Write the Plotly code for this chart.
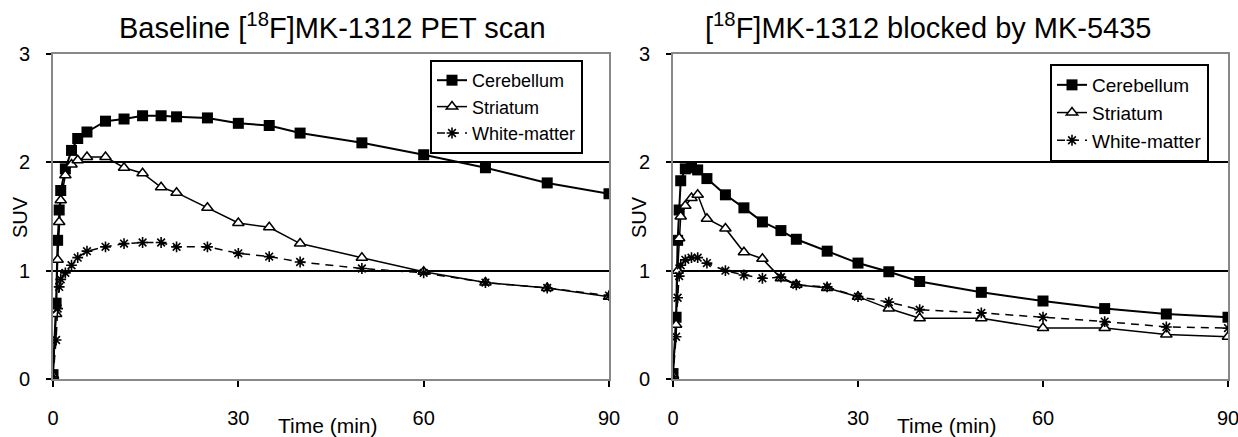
import plotly.graph_objects as go

time_min = [0, 0.5, 0.75, 1, 1.25, 2, 3, 4, 5.5, 8.5, 11.5, 14.5, 17.5, 20, 25, 30, 35, 40, 50, 60, 70, 80, 90]

base_cerebellum = [0.04, 0.70, 1.28, 1.56, 1.74, 1.94, 2.11, 2.22, 2.28, 2.38, 2.40, 2.43, 2.43, 2.42,
                   2.41, 2.36, 2.34, 2.27, 2.18, 2.07, 1.95, 1.81, 1.71]
base_striatum = [0.03, 0.60, 1.10, 1.45, 1.65, 1.88, 1.98, 2.02, 2.05, 2.05, 1.95, 1.90, 1.77, 1.72,
                 1.58, 1.44, 1.40, 1.25, 1.12, 0.99, 0.89, 0.84, 0.76]
base_white = [0.02, 0.36, 0.65, 0.85, 0.92, 0.98, 1.05, 1.12, 1.18, 1.22, 1.25, 1.26, 1.26, 1.22,
              1.22, 1.16, 1.13, 1.08, 1.02, 0.98, 0.89, 0.84, 0.77]

block_cerebellum = [0.05, 0.57, 1.28, 1.56, 1.83, 1.94, 1.95, 1.93, 1.85, 1.70, 1.58, 1.45, 1.37, 1.29,
                    1.18, 1.07, 0.99, 0.90, 0.80, 0.72, 0.65, 0.60, 0.57]
block_striatum = [0.03, 0.50, 1.00, 1.30, 1.50, 1.60, 1.67, 1.70, 1.48, 1.39, 1.17, 1.11, 0.93, 0.87,
                  0.84, 0.76, 0.65, 0.56, 0.56, 0.47, 0.47, 0.41, 0.39]
block_white = [0.02, 0.39, 0.75, 0.95, 1.05, 1.10, 1.12, 1.12, 1.07, 1.00, 0.96, 0.93, 0.94, 0.87,
               0.85, 0.76, 0.71, 0.64, 0.61, 0.57, 0.53, 0.48, 0.47]

series_names = ["Cerebellum", "Striatum", "White-matter"]
x_ticks = [0, 30, 60, 90]
y_ticks = [0, 1, 2, 3]

FONT = "Liberation Sans, Arial, sans-serif"

fig = go.Figure()


def add_panel(xa, ya, legend, cer, stri, wm):
    fig.add_trace(go.Scatter(
        x=time_min, y=cer, name=series_names[0], mode="lines+markers",
        line=dict(color="black", width=2),
        marker=dict(symbol="square", size=11, color="black"),
        xaxis=xa, yaxis=ya, legend=legend))
    fig.add_trace(go.Scatter(
        x=time_min, y=stri, name=series_names[1], mode="lines+markers",
        line=dict(color="black", width=1.5),
        marker=dict(symbol="triangle-up", size=10, color="white",
                    line=dict(color="black", width=1.5)),
        xaxis=xa, yaxis=ya, legend=legend))
    fig.add_trace(go.Scatter(
        x=time_min, y=wm, name=series_names[2], mode="lines+markers",
        line=dict(color="black", width=1.5, dash="8px,6px"),
        marker=dict(symbol="asterisk-open", size=9, color="black",
                    line=dict(color="black", width=1.6)),
        xaxis=xa, yaxis=ya, legend=legend))


add_panel("x", "y", "legend", base_cerebellum, base_striatum, base_white)
add_panel("x2", "y2", "legend2", block_cerebellum, block_striatum, block_white)

W, H = 1238, 437
ydom = [(H - 379) / H, (H - 54) / H]

xax = dict(range=[0, 90], tickvals=x_ticks, showgrid=False, zeroline=True,
           zerolinecolor="black", zerolinewidth=2, showline=True, mirror=True,
           linecolor="#888888", linewidth=2, ticks="outside", ticklen=6, tickwidth=2,
           tickcolor="black", ticklabelstandoff=14, ticklabeloverflow="allow",
           tickfont=dict(family=FONT, size=20, color="black"))
yax = dict(range=[0, 3], tickvals=y_ticks, showgrid=True, gridcolor="black",
           gridwidth=2, zeroline=True, zerolinecolor="black", zerolinewidth=2,
           showline=True, mirror=True, linecolor="#888888", linewidth=2,
           ticks="outside", ticklen=5, tickwidth=2, tickcolor="black",
           ticklabelstandoff=12,
           tickfont=dict(family=FONT, size=20, color="black"))

leg = dict(xanchor="left", yanchor="top", bgcolor="white", bordercolor="black",
           borderwidth=2, tracegroupgap=0, itemwidth=30)

fig.update_layout(
    width=W, height=H,
    margin=dict(l=0, r=0, t=0, b=0, autoexpand=False),
    paper_bgcolor="white", plot_bgcolor="white",
    font=dict(family=FONT, color="black"),
    xaxis=dict(xax, domain=[53 / W, 609 / W], anchor="y"),
    yaxis=dict(yax, domain=ydom, anchor="x"),
    xaxis2=dict(xax, domain=[673 / W, 1228 / W], anchor="y2"),
    yaxis2=dict(yax, domain=ydom, anchor="x2"),
    legend=dict(leg, x=430 / W, y=(H - 60) / H, font=dict(family=FONT, size=18)),
    legend2=dict(leg, x=1050 / W, y=(H - 64) / H, font=dict(family=FONT, size=19)),
    showlegend=True,
)

annots = [
    dict(text="Baseline [<sup>18</sup>F]MK-1312 PET scan", x=333 / W, y=1 - 26 / H, size=29),
    dict(text="[<sup>18</sup>F]MK-1312 blocked by MK-5435", x=928 / W, y=1 - 26 / H, size=29),
    dict(text="Time (min)", x=328 / W, y=1 - 425 / H, size=21),
    dict(text="Time (min)", x=947 / W, y=1 - 425 / H, size=21),
]
for a in annots:
    fig.add_annotation(text=a["text"], x=a["x"], y=a["y"], xref="paper", yref="paper",
                       showarrow=False, xanchor="center", yanchor="middle",
                       font=dict(family=FONT, size=a["size"], color="black"))
for xp in [20, 639]:
    fig.add_annotation(text="SUV", x=xp / W, y=1 - 217 / H, xref="paper", yref="paper",
                       showarrow=False, textangle=-90, xanchor="center", yanchor="middle",
                       font=dict(family=FONT, size=20, color="black"))

fig.write_html("out.html", config={"displayModeBar": False},
               post_script="document.body.style.margin='0px';document.body.style.overflow='hidden';")
